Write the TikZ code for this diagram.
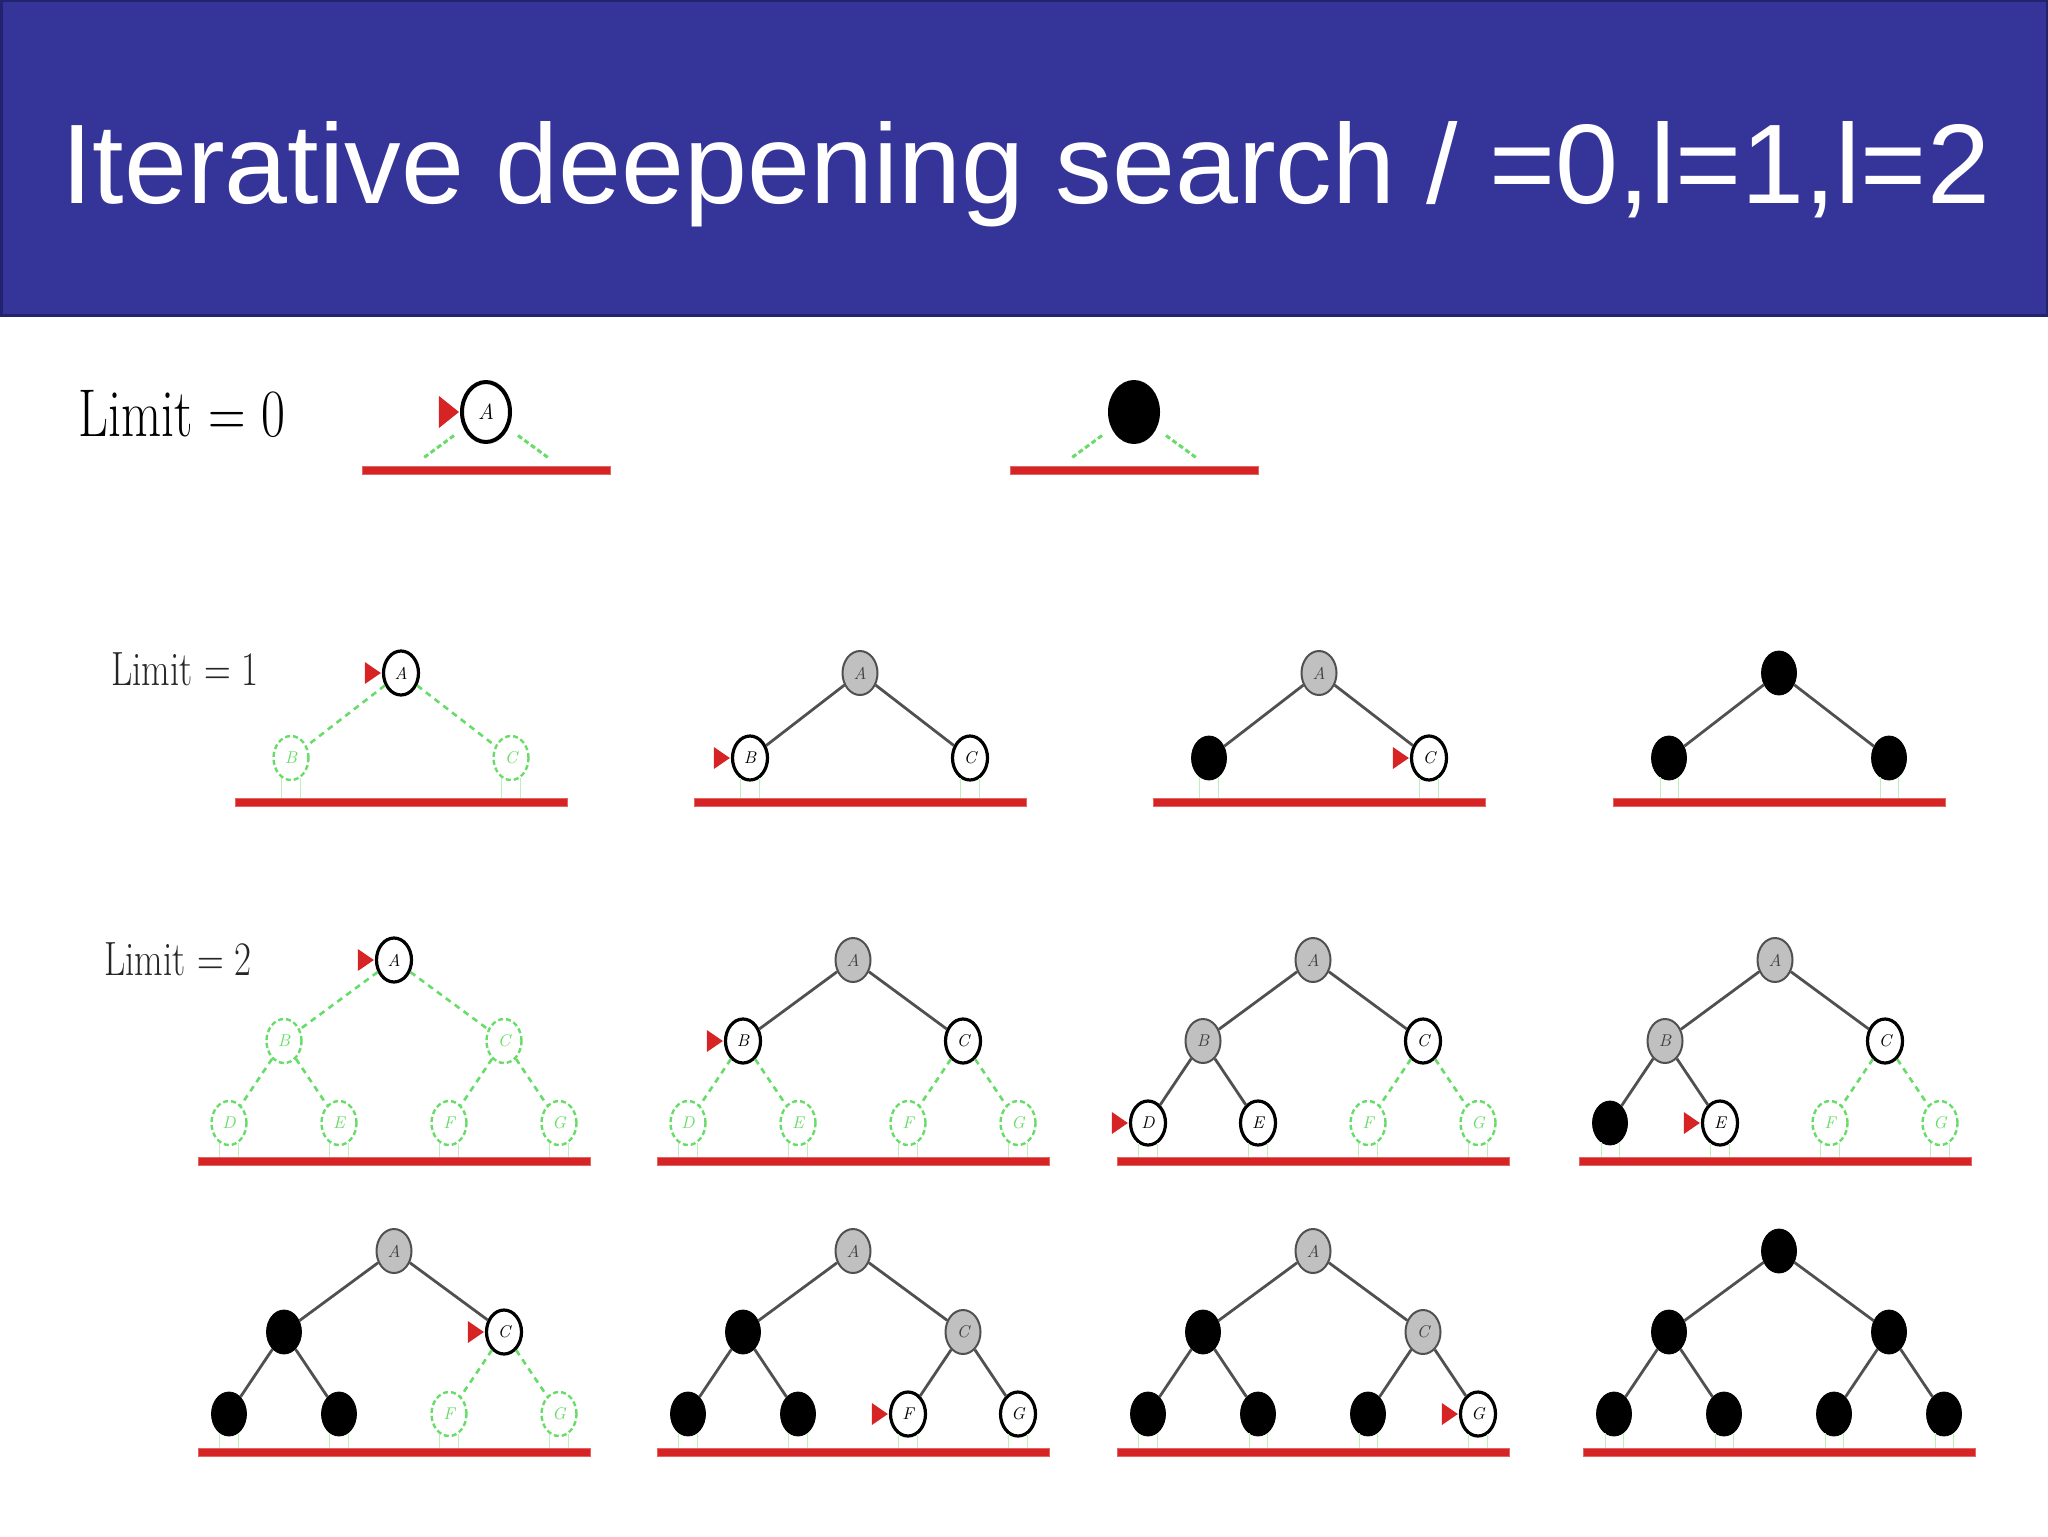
\documentclass[tikz,border=0pt]{standalone}
\usepackage{fontspec}
\newfontfamily\titlefont{Liberation Sans}
\usetikzlibrary{shapes.geometric}
\definecolor{slideblue}{RGB}{53,52,153}
\definecolor{slideedge}{RGB}{35,34,110}
\definecolor{cutred}{RGB}{214,36,36}
\definecolor{fringe}{RGB}{104,220,104}
\definecolor{linkgray}{RGB}{80,80,80}
\definecolor{seengray}{RGB}{192,192,192}

% depth-0 tree: name, root position, state of A
\newcommand{\treezero}[3]{%
  \node[#3,big] (#1-a) at #2 {A};
  \node[cutbar,minimum width=124pt] (#1-bar) at ([shift={(0,58)}]#1-a) {};
  \draw[cutlink] (#1-a) -- ([shift={(-73,0)}]#1-bar.north);
  \draw[cutlink] (#1-a) -- ([shift={(73,0)}]#1-bar.north);
}
% depth-1 tree: name, root position, states of A B C
\newcommand{\treeone}[5]{%
  \node[#3] (#1-a) at #2 {A};
  \node[#4] (#1-b) at ([shift={(-110,85)}]#1-a) {B};
  \node[#5] (#1-c) at ([shift={(110,85)}]#1-a) {C};
  \node[cutbar,minimum width=166pt] (#1-bar) at ([shift={(0,129)}]#1-a) {};
  \draw[l#4] (#1-a) -- (#1-b);
  \draw[l#5] (#1-a) -- (#1-c);
  \foreach \lf in {b,c}{
    \draw[stub] (#1-\lf.245) -- (#1-\lf.245 |- #1-bar.north);
    \draw[stub] (#1-\lf.295) -- (#1-\lf.295 |- #1-bar.north);}
}
% depth-2 tree: name, root position, states of A B C D E F G
\newcommand{\treetwo}[9]{%
  \node[#3] (#1-a) at #2 {A};
  \node[#4] (#1-b) at ([shift={(-110,81)}]#1-a) {B};
  \node[#5] (#1-c) at ([shift={(110,81)}]#1-a) {C};
  \node[#6] (#1-d) at ([shift={(-55,82)}]#1-b) {D};
  \node[#7] (#1-e) at ([shift={(55,82)}]#1-b) {E};
  \node[#8] (#1-f) at ([shift={(-55,82)}]#1-c) {F};
  \node[#9] (#1-g) at ([shift={(55,82)}]#1-c) {G};
  \node[cutbar,minimum width=196pt] (#1-bar) at ([shift={(0,201)}]#1-a) {};
  \draw[l#4] (#1-a) -- (#1-b);
  \draw[l#5] (#1-a) -- (#1-c);
  \draw[l#6] (#1-b) -- (#1-d);
  \draw[l#7] (#1-b) -- (#1-e);
  \draw[l#8] (#1-c) -- (#1-f);
  \draw[l#9] (#1-c) -- (#1-g);
  \foreach \lf in {d,e,f,g}{
    \draw[stub] (#1-\lf.245) -- (#1-\lf.245 |- #1-bar.north);
    \draw[stub] (#1-\lf.295) -- (#1-\lf.295 |- #1-bar.north);}
}

\begin{document}
\begin{tikzpicture}[x=0.5pt,y=-0.5pt,
nd/.style={ellipse,minimum width=17.5pt,minimum height=22pt,inner sep=0pt,
font=\fontsize{8.5}{8.5}\selectfont\itshape},
big/.style={minimum width=24pt,minimum height=30pt,line width=2pt,
font=\fontsize{11}{11}\selectfont\itshape},
nopen/.style={nd,draw=black,line width=1.6pt,fill=white},
ncur/.style={nopen,label={[tri]west:{}}},
nseen/.style={nd,draw=linkgray,line width=1pt,fill=seengray,text=black!75},
ndone/.style={nd,draw=black,fill=black},
nnew/.style={nd,draw=fringe,line width=1.2pt,dash pattern=on 2.5pt off 1.5pt,text=fringe},
tri/.style={isosceles triangle,isosceles triangle stretches,fill=cutred,
inner sep=0pt,minimum width=11pt,minimum height=8pt,label distance=0pt},
bigtri/.style={tri,minimum width=16pt,minimum height=10pt},
link/.style={linkgray,line width=1.4pt},
lnopen/.style={link},lncur/.style={link},lnseen/.style={link},lndone/.style={link},
lnnew/.style={fringe,line width=1.3pt,dash pattern=on 3pt off 2.5pt},
cutlink/.style={fringe,line width=1.5pt,dash pattern=on 2.5pt off 1.5pt,
shorten <=6pt,shorten >=7pt},
stub/.style={fringe!45,line width=0.5pt},
cutbar/.style={rectangle,fill=cutred,draw=cutred!70,line width=0.4pt,
minimum height=4pt,inner sep=0pt},
limtext/.style={anchor=base west,inner sep=0pt}]
\useasboundingbox (0,0) rectangle (2048,1536);
% slide title
\fill[slideblue] (0,0) rectangle (2048,316);
\draw[slideedge,line width=1.5pt] (1,1) rectangle (2047,315);
\node[anchor=base west,inner sep=0pt,text=white,
font=\titlefont\fontsize{56.6}{56}\selectfont] (title) at (61,203)
{Iterative deepening search / =0,l=1,l=2};
% limit labels
\node[limtext,font=\fontsize{26}{26}\selectfont] (lim0) at (78,436)
{\scalebox{1}[1.3]{Limit = 0}};
\node[limtext,text=black!85,font=\fontsize{18.5}{18}\selectfont] (lim1) at (111,685)
{\scalebox{1}[1.3]{Limit = 1}};
\node[limtext,text=black!85,font=\fontsize{18.5}{18}\selectfont] (lim2) at (104,975)
{\scalebox{1}[1.3]{Limit = 2}};
% limit 0
\treezero{za}{(486,412)}{nopen,label={[bigtri]west:{}}}
\treezero{zb}{(1134,412)}{ndone}
% limit 1
\treeone{oa}{(401,673)}{ncur}{nnew}{nnew}
\treeone{ob}{(860,673)}{nseen}{ncur}{nopen}
\treeone{oc}{(1319,673)}{nseen}{ndone}{ncur}
\treeone{od}{(1779,673)}{ndone}{ndone}{ndone}
% limit 2
\treetwo{ta}{(394,960)}{ncur}{nnew}{nnew}{nnew}{nnew}{nnew}{nnew}
\treetwo{tb}{(853,960)}{nseen}{ncur}{nopen}{nnew}{nnew}{nnew}{nnew}
\treetwo{tc}{(1313,960)}{nseen}{nseen}{nopen}{ncur}{nopen}{nnew}{nnew}
\treetwo{td}{(1775,960)}{nseen}{nseen}{nopen}{ndone}{ncur}{nnew}{nnew}
\treetwo{te}{(394,1251)}{nseen}{ndone}{ncur}{ndone}{ndone}{nnew}{nnew}
\treetwo{tf}{(853,1251)}{nseen}{ndone}{nseen}{ndone}{ndone}{ncur}{nopen}
\treetwo{tg}{(1313,1251)}{nseen}{ndone}{nseen}{ndone}{ndone}{ndone}{ncur}
\treetwo{th}{(1779,1251)}{ndone}{ndone}{ndone}{ndone}{ndone}{ndone}{ndone}
\end{tikzpicture}
\end{document}
